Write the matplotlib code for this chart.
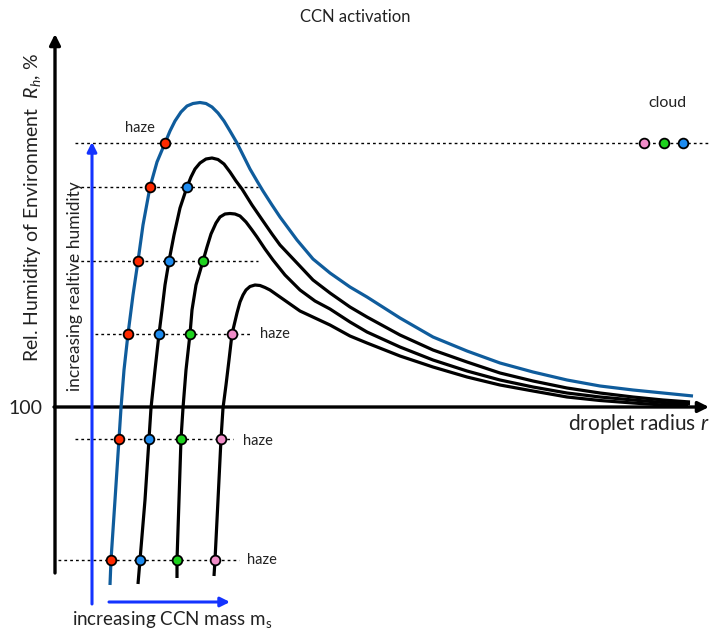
import numpy as np
import matplotlib.pyplot as plt

plt.rcParams['font.family'] = ['Lato', 'DejaVu Sans']
plt.rcParams['mathtext.fontset'] = 'custom'
plt.rcParams['mathtext.rm'] = 'Lato'
plt.rcParams['mathtext.it'] = 'Lato:italic'

# schematic coordinates (x right, y down)
blue_x = [110, 111, 115, 119, 121, 124, 128, 133, 138, 143, 150, 157, 165, 170, 175, 181, 187,
          193, 200, 206, 212, 218, 224, 230, 237, 244, 250, 257, 263, 272, 280, 297, 313,
          330, 350, 367, 400, 433, 467, 500, 533, 567, 600, 633, 663, 693]
blue_y = [585, 560, 500, 439, 408, 370, 334, 295, 261, 225, 187, 162, 143, 131, 121, 112, 106,
          103.5, 102.5, 103.5, 107, 113, 121, 131, 143, 157, 169, 181, 191, 205, 217, 240, 259,
          273, 287, 297, 318, 337, 351, 363, 372, 380, 386, 390, 393, 396]

c1_x = [138, 140, 145, 149, 151, 155, 159, 162, 165, 169, 174, 180, 187, 191, 195, 200, 206,
        212, 218, 224, 230, 236, 242, 252, 263, 272, 280, 297, 313, 330, 350, 367, 400, 433,
        467, 500, 533, 567, 600, 633, 663, 690]
c1_y = [584, 560, 500, 439, 408, 370, 334, 310, 285, 261, 235, 208, 187, 177, 169, 163, 159,
        158, 159.5, 164, 172, 181, 189, 205, 221, 234, 245, 263, 280, 293, 307, 317, 335, 350,
        362, 373, 381, 388, 393, 397, 400, 402]

c2_x = [177, 177, 179, 181, 183, 186, 190, 192, 196, 203, 207, 211, 216, 220, 225, 230, 235,
        240, 246, 252, 257, 265, 273, 285, 300, 315, 330, 350, 367, 400, 433, 467, 500, 533,
        567, 600, 633, 663, 690]
c2_y = [578, 560, 500, 439, 408, 370, 334, 310, 285, 261, 247, 234, 223, 217, 214, 213.5, 214,
        216, 222, 230, 237, 249, 260, 275, 290, 301, 309, 322, 332, 347, 360, 371, 380, 387,
        393, 397, 400, 402.5, 404]

c3_x = [214, 215, 218, 221, 223, 226, 229, 232, 237, 240, 243, 246, 250, 255, 260, 265, 270,
        280, 290, 300, 315, 330, 350, 367, 400, 433, 467, 500, 533, 567, 600, 633, 663, 688]
c3_y = [576, 560, 500, 439, 408, 385, 360, 334, 313, 302, 295, 290, 286.5, 285, 285.5, 287.5,
        290, 297, 304, 311, 318, 325, 336, 343, 356, 367, 377, 385, 391, 397, 400.5, 403,
        405, 406]

# dotted humidity levels: y, x start, x end, marker x positions (red, blue, green, pink)
level_y = [143, 187, 261, 334, 439, 560]
level_x0 = [75, 75, 75, 95, 75, 58]
level_x1 = [710, 258, 258, 252, 233, 239]
red_x = [165, 150, 138, 128, 119, 111]
bluem_x = [None, 187, 169, 159, 149, 140]
green_x = [None, None, 203, 190, 181, 177]
pink_x = [None, None, None, 232, 221, 215]
cloud_x = [644, 664, 683]
cloud_colors = ['#f08cc8', '#1ed21e', '#1e8cf0']

haze_pos = [(140, 128, 'center'), (260, 334, 'left'), (243, 441, 'left'), (247, 560, 'left')]

fig = plt.figure(figsize=(7.1, 6.32), dpi=100)
ax = fig.add_axes([0, 0, 1, 1])
ax.set_xlim(0, 710)
ax.set_ylim(632, 0)
ax.axis('off')

# axes arrows
arr = dict(arrowstyle='-|>', lw=2.4, color='k', mutation_scale=16, shrinkA=0, shrinkB=0)
ax.annotate('', xy=(55, 34), xytext=(55, 573), arrowprops=arr, annotation_clip=False)
ax.annotate('', xy=(709, 407), xytext=(54, 407), arrowprops=arr, annotation_clip=False)

# dotted levels
for y, x0, x1 in zip(level_y, level_x0, level_x1):
    ax.plot([x0, x1], [y, y], color='k', lw=1.0, ls=(0, (2, 2.2)), zorder=2)

# curves
ax.plot(blue_x, blue_y, color='#0f5c9c', lw=2.3, zorder=3,
        solid_capstyle='butt', solid_joinstyle='round')
for cx, cy in [(c1_x, c1_y), (c2_x, c2_y), (c3_x, c3_y)]:
    ax.plot(cx, cy, color='k', lw=2.3, zorder=3, solid_capstyle='butt', solid_joinstyle='round')

# markers
mk = dict(marker='o', ms=7, mec='k', mew=1.3, ls='none', zorder=5)
for xs, col in [(red_x, '#ff2a00'), (bluem_x, '#1e8cf0'), (green_x, '#1ed21e'), (pink_x, '#f08cc8')]:
    pts = [(x, y) for x, y in zip(xs, level_y) if x is not None]
    ax.plot([p[0] for p in pts], [p[1] for p in pts], color=col, mfc=col, **mk)
for x, col in zip(cloud_x, cloud_colors):
    ax.plot([x], [143], mfc=col, **mk)

# blue arrows
barr = dict(arrowstyle='-|>', lw=2.2, color='#1433ff', mutation_scale=14, shrinkA=0, shrinkB=0)
ax.annotate('', xy=(92, 142), xytext=(92, 604), arrowprops=barr)
ax.annotate('', xy=(230, 602), xytext=(109, 602), arrowprops=barr)

# text
tc = '#222222'
for x, y, ha in haze_pos:
    ax.text(x, y, 'haze', ha=ha, va='center', fontsize=10.5, color=tc)
ax.text(667, 103, 'cloud', ha='center', va='center', fontsize=11.5, color=tc)
ax.text(355, 17, 'CCN activation', ha='center', va='center', fontsize=12, color=tc)
ax.text(25, 408, '100', ha='center', va='center', fontsize=14, color=tc)
ax.text(568, 424, 'droplet radius $r$', ha='left', va='center', fontsize=15, color=tc)
ax.text(33, 207, r'Rel. Humidity of Environment  $R_h$, %', ha='center', va='center',
        rotation=90, fontsize=14, color=tc)
ax.text(75, 286, 'increasing realtive humidity', ha='center', va='center',
        rotation=90, fontsize=12.5, color=tc)
ax.text(172, 619, r'increasing CCN mass m$_\mathrm{s}$', ha='center', va='center',
        fontsize=13.5, color=tc)

fig.savefig('out.png', dpi=100)
